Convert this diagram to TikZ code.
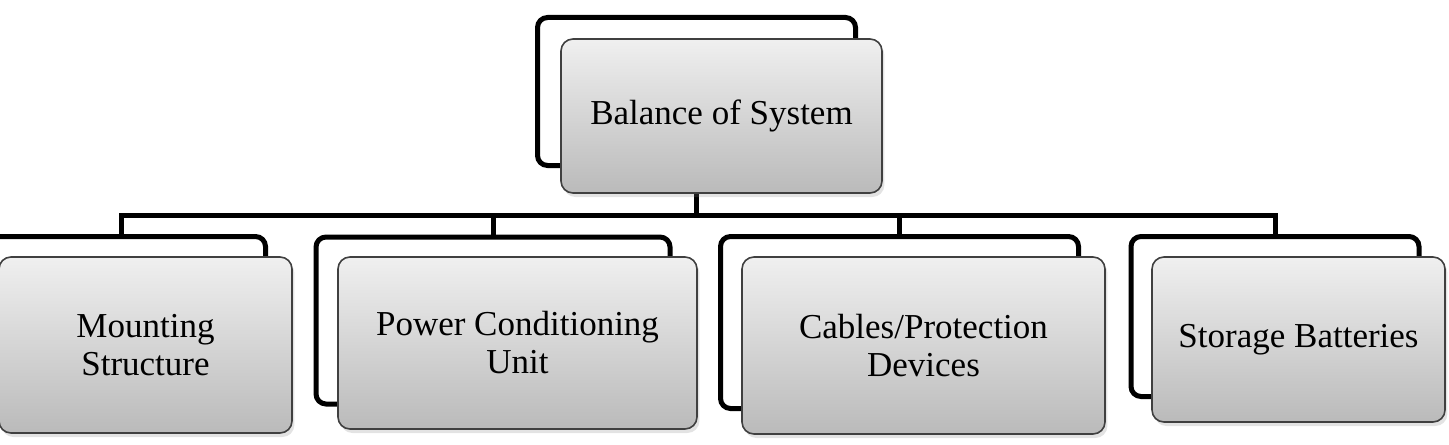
\documentclass[tikz,border=0pt]{standalone}
\usepackage{fontspec}
\setmainfont{Liberation Serif}
\usetikzlibrary{shadows, positioning}

\begin{document}
\begin{tikzpicture}[
    x=0.5pt, y=-0.5pt,
    % Node styles
    frame/.style={
        rectangle, rounded corners=5pt, draw=black, line width=2.5pt,
        fill=white, inner sep=0pt
    },
    card/.style={
        rectangle, rounded corners=6pt, draw=black!75, line width=0.8pt,
        top color=black!6, bottom color=black!27,
        drop shadow={shadow xshift=1.2pt, shadow yshift=-2pt, opacity=0.22},
        font=\fontsize{17.5}{19}\selectfont, align=center, inner sep=0pt
    },
    link/.style={line width=2.5pt, black}
]

\clip (0,0) rectangle (1449,444);

% ============================================================
% Back frames
% ============================================================

\node[frame, minimum width=159pt, minimum height=74pt] (bosback) at (696.5,91.5) {};

\node[frame, minimum width=144pt, minimum height=85.5pt] (msback) at (121.5,322) {};
\node[frame, minimum width=177pt, minimum height=83.5pt] (pcuback) at (493,320.5) {};
\node[frame, minimum width=179pt, minimum height=86pt] (cpdback) at (899.5,322.5) {};
\node[frame, minimum width=144pt, minimum height=80pt] (sbback) at (1275,316.5) {};

% ============================================================
% Connectors
% ============================================================

\coordinate (bus) at (0,215);

\draw[link] (bosback.south) -- (bosback.south |- bus);
\draw[link] (msback.north) |- (bosback.south |- bus) -| (sbback.north);
\draw[link] (pcuback.north |- bus) -- (pcuback.north);
\draw[link] (cpdback.north |- bus) -- (cpdback.north);

% ============================================================
% Front cards
% ============================================================

\node[card, minimum width=160.5pt, minimum height=77pt]
    at ([shift={(25,24.5)}]bosback.center) (bos) {Balance of System};

\node[card, minimum width=146.5pt, minimum height=88pt]
    at ([shift={(24,23)}]msback.center) (ms) {Mounting\\Structure};
\node[card, minimum width=179.5pt, minimum height=86pt]
    at ([shift={(24.5,22.5)}]pcuback.center) (pcu) {Power Conditioning\\Unit};
\node[card, minimum width=181.5pt, minimum height=88.5pt]
    at ([shift={(24,23)}]cpdback.center) (cpd) {Cables/Protection\\Devices};
\node[card, minimum width=146.5pt, minimum height=82.5pt]
    at ([shift={(23.5,23)}]sbback.center) (sb) {Storage Batteries};

\end{tikzpicture}
\end{document}
